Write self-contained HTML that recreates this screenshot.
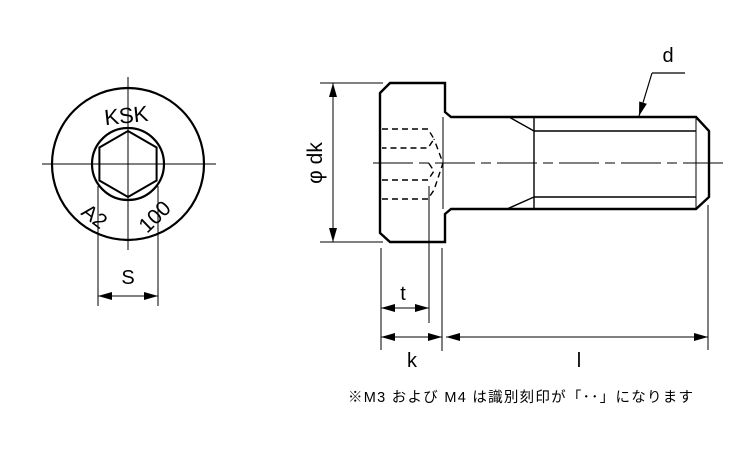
<!DOCTYPE html>
<html><head><meta charset="utf-8"><style>
html,body{margin:0;padding:0;background:#fff;}
svg{display:block;}
text{font-family:"Liberation Sans","Noto Sans CJK JP",sans-serif;fill:#000;}
</style></head><body>
<svg width="750" height="450" viewBox="0 0 750 450" xmlns="http://www.w3.org/2000/svg">
<defs>
<marker id="a" markerWidth="14" markerHeight="8" refX="14" refY="4" orient="auto-start-reverse" markerUnits="userSpaceOnUse"><path d="M0,0 L14,4 L0,8 z" fill="#000"/></marker>
</defs>
<g fill="none" stroke="#000">
<circle cx="128" cy="164" r="76" stroke-width="2.2"/>
<circle cx="128" cy="164" r="36" stroke-width="2.2"/>
<polygon points="128,131 156.6,147.5 156.6,180.5 128,197 99.4,180.5 99.4,147.5" stroke-width="2"/>
<line x1="42" y1="164" x2="216" y2="164" stroke-width="1"/>
<line x1="128" y1="77" x2="128" y2="250" stroke-width="1"/>
<line x1="98" y1="186" x2="98" y2="306" stroke-width="1"/>
<line x1="158" y1="186" x2="158" y2="306" stroke-width="1"/>
<line x1="98" y1="296" x2="158" y2="296" stroke-width="1" marker-start="url(#a)" marker-end="url(#a)"/>
<path d="M390,83 L445,83 L445,112 L451,117 L696,117 L709,131 L709,197 L696,209 L451,209 L445,214 L445,242 L390,242 L380,233 L380,93 Z" stroke-width="2.4"/>
<line x1="443" y1="117" x2="443" y2="209" stroke-width="1"/>
<line x1="534" y1="117" x2="534" y2="209" stroke-width="1.4"/>
<line x1="534" y1="131" x2="696" y2="131" stroke-width="1.4"/>
<line x1="534" y1="197" x2="696" y2="197" stroke-width="1.4"/>
<line x1="509" y1="117" x2="534" y2="131" stroke-width="1.4"/>
<line x1="507" y1="209" x2="534" y2="197" stroke-width="1.4"/>
<line x1="696" y1="117" x2="696" y2="209" stroke-width="1"/>
<line x1="373" y1="163" x2="723" y2="163" stroke-width="1" stroke-dasharray="40,6,10,6"/>
<g stroke-width="1.4" stroke-dasharray="6,4">
<path d="M382,129 L428,129 L434,139 L428,148 L382,148"/>
<path d="M382,180 L428,180 L434,171 L428,162"/>
<path d="M382,199 L428,199 L434,190 L443,163 L434,139"/>
</g>
<line x1="320" y1="83" x2="383" y2="83" stroke-width="1"/>
<line x1="320" y1="242" x2="383" y2="242" stroke-width="1"/>
<line x1="333" y1="83" x2="333" y2="242" stroke-width="1" marker-start="url(#a)" marker-end="url(#a)"/>
<line x1="652" y1="73" x2="639" y2="116" stroke-width="1.2" marker-end="url(#a)"/>
<line x1="652" y1="73" x2="685" y2="73" stroke-width="1.2"/>
<line x1="381" y1="248" x2="381" y2="350" stroke-width="1"/>
<line x1="429" y1="186" x2="429" y2="323" stroke-width="1"/>
<line x1="442" y1="248" x2="442" y2="351" stroke-width="1"/>
<line x1="708" y1="205" x2="708" y2="350" stroke-width="1"/>
<line x1="381" y1="308" x2="429" y2="308" stroke-width="1" marker-start="url(#a)" marker-end="url(#a)"/>
<line x1="381" y1="337" x2="442" y2="337" stroke-width="1" marker-start="url(#a)" marker-end="url(#a)"/>
<line x1="446" y1="337" x2="708" y2="337" stroke-width="1" marker-start="url(#a)" marker-end="url(#a)"/>
</g>
<text x="0" y="0" font-size="22" text-anchor="middle" transform="translate(127,123) rotate(-6)">KSK</text>
<text x="0" y="0" font-size="21" transform="translate(80,214) rotate(38)">A2</text>
<text x="0" y="0" font-size="21" transform="translate(147,234) rotate(-44)">100</text>
<text x="128" y="284" font-size="20" text-anchor="middle">S</text>
<text x="0" y="0" font-size="21" text-anchor="middle" transform="translate(322,163) rotate(-90)">φ dk</text>
<text x="668" y="62" font-size="20" text-anchor="middle">d</text>
<text x="403" y="300" font-size="20" text-anchor="middle">t</text>
<text x="412" y="367" font-size="20" text-anchor="middle">k</text>
<text x="579" y="367" font-size="20" text-anchor="middle">l</text>
<text x="348" y="402" font-size="14.5" textLength="345">※M3 および M4 は識別刻印が「･･」になります</text>
</svg>
</body></html>
